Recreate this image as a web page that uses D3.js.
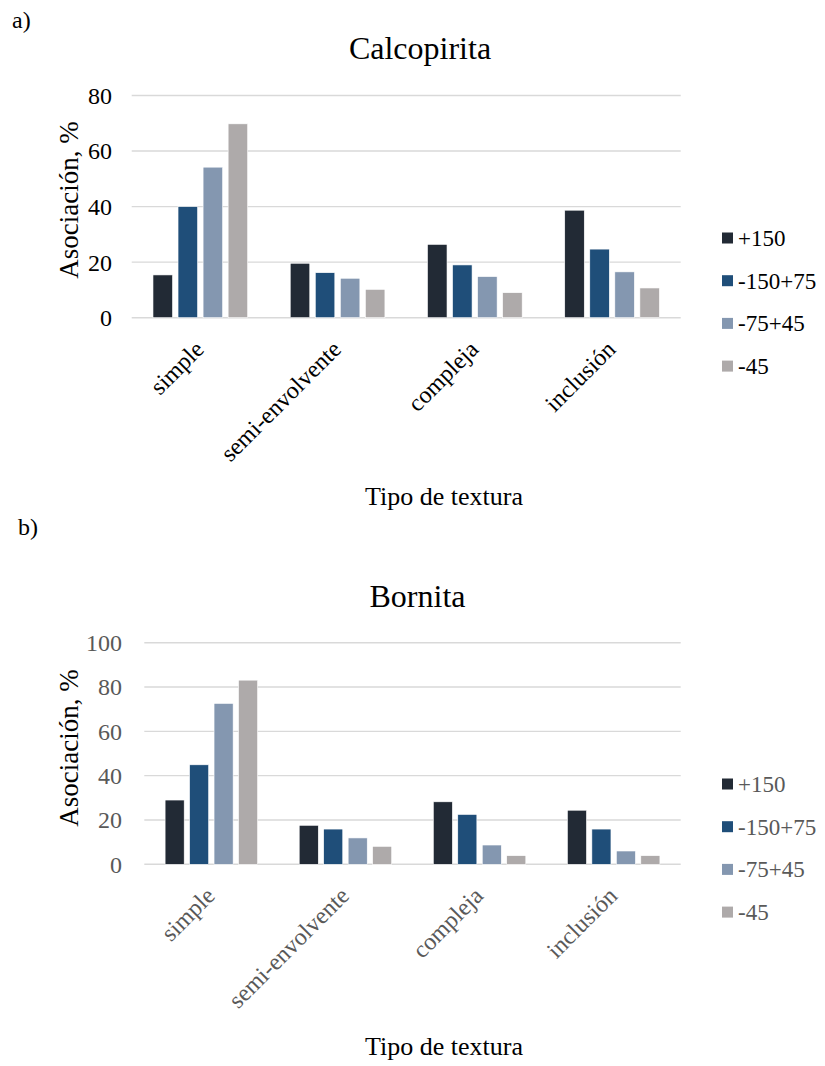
<!DOCTYPE html>
<html>
<head>
<meta charset="utf-8">
<script src="https://cdn.jsdelivr.net/npm/d3@7"></script>
<style>
  html, body { margin: 0; padding: 0; background: #fff; }
  svg text { font-family: "Liberation Serif", "Times New Roman", serif; }
</style>
</head>
<body>
<svg id="fig" width="825" height="1066"></svg>
<script>
// Texture categories and particle-size series
const categories = ["simple", "semi-envolvente", "compleja", "inclusión"];
const series = ["+150", "-150+75", "-75+45", "-45"];
const seriesColors = ["#222a35", "#1f4e79", "#8497b0", "#aeaaaa"];

// Calcopirita: association % per texture, one array per size fraction
const calcoP150 = [15.4, 19.6, 26.4, 38.7];
const calcoM150P75 = [40.0, 16.2, 19.0, 24.7];
const calcoM75P45 = [54.2, 14.2, 14.8, 16.5];
const calcoM45 = [69.8, 10.2, 9.0, 10.7];
const calcoTicks = [0, 20, 40, 60, 80];

// Bornita
const bornP150 = [29.0, 17.6, 28.2, 24.4];
const bornM150P75 = [44.9, 15.9, 22.5, 15.9];
const bornM75P45 = [72.6, 11.9, 8.7, 6.0];
const bornM45 = [83.1, 8.1, 3.9, 3.9];
const bornTicks = [0, 20, 40, 60, 80, 100];

const FONT = "'Liberation Serif', 'Times New Roman', serif";
const svg = d3.select("#fig");

function drawChart(opt) {
  const g = svg.append("g").attr("font-family", FONT);
  const values = opt.values; // [series][category]
  const x0 = d3.scaleBand().domain(categories)
    .range([opt.left, opt.right]).paddingInner(0.27).paddingOuter(0.135);
  const x1 = d3.scaleBand().domain(series)
    .range([0, x0.bandwidth()]).paddingInner(0.22).paddingOuter(0.11);
  const y = d3.scaleLinear().domain([0, d3.max(opt.ticks)]).range([opt.bottom, opt.top]);

  // gridlines
  g.append("g").selectAll("line").data(opt.ticks).join("line")
    .attr("x1", opt.left).attr("x2", opt.right)
    .attr("y1", d => y(d)).attr("y2", d => y(d))
    .attr("stroke", "#d9d9d9").attr("stroke-width", 1.4);

  // y tick labels
  g.append("g").selectAll("text").data(opt.ticks).join("text")
    .attr("font-family", FONT)
    .attr("x", opt.tickX).attr("y", d => y(d)).attr("dy", "0.35em")
    .attr("text-anchor", "end").attr("font-size", 24)
    .attr("fill", opt.labelColor).text(d => d);

  // bars
  const groups = g.append("g").selectAll("g").data(categories).join("g")
    .attr("transform", d => `translate(${x0(d)},0)`);
  groups.selectAll("rect")
    .data((c, ci) => series.map((s, si) => ({ s, si, v: values[si][ci] })))
    .join("rect")
    .attr("x", d => x1(d.s)).attr("width", x1.bandwidth())
    .attr("y", d => y(d.v)).attr("height", d => y(0) - y(d.v))
    .attr("fill", d => seriesColors[d.si])
    .attr("stroke", "#ffffff").attr("stroke-width", 0.6);

  // category labels, rotated
  g.append("g").selectAll("text").data(categories).join("text")
    .attr("font-family", FONT)
    .attr("transform", d => `translate(${x0(d) + x0.bandwidth() / 2 + 5},${opt.bottom + 33}) rotate(-45)`)
    .attr("text-anchor", "end").attr("font-size", 24)
    .attr("fill", opt.labelColor).text(d => d);

  // chart title
  g.append("text").attr("font-family", FONT)
    .attr("x", opt.titleX).attr("y", opt.titleY)
    .attr("text-anchor", "middle").attr("font-size", 32).attr("fill", "#000")
    .text(opt.title);

  // axis titles
  g.append("text").attr("font-family", FONT)
    .attr("x", 444).attr("y", opt.xTitleY)
    .attr("text-anchor", "middle").attr("font-size", 26).attr("fill", "#000")
    .text("Tipo de textura");
  g.append("text").attr("font-family", FONT)
    .attr("transform", `translate(78,${opt.yTitleY}) rotate(-90)`)
    .attr("text-anchor", "middle").attr("font-size", 27).attr("fill", "#000")
    .text("Asociación, %");

  // legend
  const lg = g.append("g").selectAll("g").data(series).join("g")
    .attr("transform", (d, i) => `translate(722,${opt.legendY + i * 42.7})`);
  lg.append("rect").attr("x", 0).attr("y", -5.5).attr("width", 11).attr("height", 11)
    .attr("fill", (d, i) => seriesColors[i]);
  lg.append("text").attr("font-family", FONT)
    .attr("x", 16).attr("y", 0).attr("dy", "0.35em")
    .attr("font-size", 23).attr("fill", opt.labelColor).text(d => d);

  // panel letter
  g.append("text").attr("font-family", FONT)
    .attr("x", opt.letterX).attr("y", opt.letterY)
    .attr("font-size", 24).attr("fill", "#000").text(opt.letter);
}

drawChart({
  values: [calcoP150, calcoM150P75, calcoM75P45, calcoM45],
  ticks: calcoTicks,
  left: 131.7, right: 680.7, top: 95.5, bottom: 317.7,
  tickX: 112, labelColor: "#000",
  title: "Calcopirita", titleX: 420, titleY: 59,
  xTitleY: 505, yTitleY: 200, legendY: 238,
  letter: "a)", letterX: 12, letterY: 28
});

drawChart({
  values: [bornP150, bornM150P75, bornM75P45, bornM45],
  ticks: bornTicks,
  left: 144.3, right: 680.7, top: 642.7, bottom: 864.3,
  tickX: 122, labelColor: "#595959",
  title: "Bornita", titleX: 417.5, titleY: 607,
  xTitleY: 1055, yTitleY: 748, legendY: 784,
  letter: "b)", letterX: 18, letterY: 535
});
</script>
</body>
</html>
